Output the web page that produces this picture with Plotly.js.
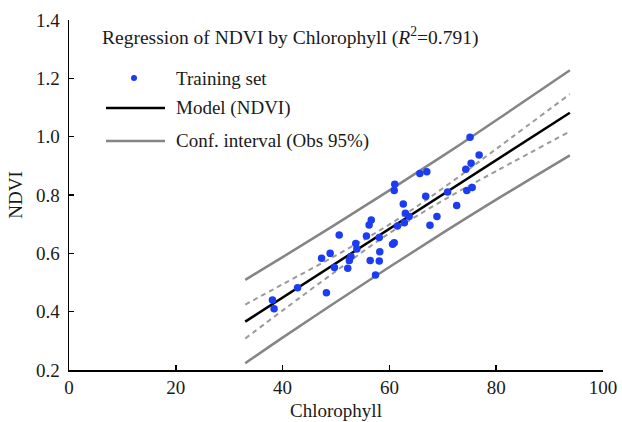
<!DOCTYPE html>
<html>
<head>
<meta charset="utf-8">
<script src="https://cdn.plot.ly/plotly-3.0.1.min.js"></script>
<style>
  html, body { margin: 0; padding: 0; background: #fff; }
  #chart { width: 622px; height: 422px; }
</style>
</head>
<body>
<div id="chart"></div>
<script>
// Training samples: chlorophyll content vs NDVI
const chlorophyll = [
  75.1, 76.8, 75.3, 74.3, 65.7, 67.0, 61.0, 60.9, 70.9, 66.8, 74.5, 75.5,
  62.6, 72.6, 63.0, 63.7, 68.9, 67.6, 62.8, 61.5, 56.6, 56.2, 50.6, 55.7,
  58.1, 53.7, 60.9, 60.6, 53.9, 58.2, 48.9, 47.3, 52.8, 52.5, 56.4, 58.1,
  49.7, 52.2, 57.4, 42.8, 48.2, 38.1, 38.4
];
const ndvi = [
  0.998, 0.937, 0.909, 0.888, 0.874, 0.880, 0.837, 0.815, 0.810, 0.796, 0.815, 0.826,
  0.769, 0.764, 0.737, 0.726, 0.726, 0.696, 0.705, 0.694, 0.714, 0.697, 0.663, 0.659,
  0.654, 0.634, 0.636, 0.631, 0.615, 0.605, 0.600, 0.583, 0.589, 0.575, 0.575, 0.574,
  0.551, 0.549, 0.526, 0.482, 0.465, 0.440, 0.410
];

// Fitted model (straight line) over the plotted chlorophyll range
const modelX = [33, 93.8];
const modelY = [0.366, 1.082];

// Band sample positions and limits
const bandX = [33, 40, 50, 60, 70, 80, 93.8];
const meanUpper = [0.424, 0.494, 0.593, 0.699, 0.823, 0.958, 1.146];
const meanLower = [0.308, 0.404, 0.539, 0.669, 0.781, 0.882, 1.018];
const obsUpper  = [0.509, 0.587, 0.700, 0.816, 0.934, 1.056, 1.228];
const obsLower  = [0.223, 0.311, 0.433, 0.553, 0.670, 0.784, 0.936];

const xTicks = [0, 20, 40, 60, 80, 100];
const yTicks = [0.2, 0.4, 0.6, 0.8, 1.0, 1.2, 1.4];
const yTickText = ['0.2', '0.4', '0.6', '0.8', '1.0', '1.2', '1.4'];

const legendLabels = ['Training set', 'Model (NDVI)', 'Conf. interval (Obs 95%)'];

const FONT = 'Liberation Serif, Times New Roman, serif';
const INK = '#1a1a1a';
const BLUE = '#1b3cf2';
const GREY = '#858585';
const DASH_GREY = '#9a9a9a';

const traces = [
  { x: bandX, y: obsUpper, mode: 'lines', line: { color: GREY, width: 2.5, shape: 'spline' }, hoverinfo: 'skip' },
  { x: bandX, y: obsLower, mode: 'lines', line: { color: GREY, width: 2.5, shape: 'spline' }, hoverinfo: 'skip' },
  { x: bandX, y: meanUpper, mode: 'lines', line: { color: DASH_GREY, width: 2, dash: '5px,4px', shape: 'spline' }, hoverinfo: 'skip' },
  { x: bandX, y: meanLower, mode: 'lines', line: { color: DASH_GREY, width: 2, dash: '5px,4px', shape: 'spline' }, hoverinfo: 'skip' },
  { x: modelX, y: modelY, mode: 'lines', line: { color: '#000', width: 2.5 } },
  { x: chlorophyll, y: ndvi, mode: 'markers', marker: { color: BLUE, size: 7.5 } }
];

// Hand-placed legend block in paper coordinates
const px = v => (v - 69) / 534;
const py = v => (370 - v) / 350;

const shapes = [
  { type: 'circle', xref: 'paper', yref: 'paper',
    x0: px(131), x1: px(137), y0: py(81), y1: py(75),
    fillcolor: BLUE, line: { width: 0 } },
  { type: 'line', xref: 'paper', yref: 'paper',
    x0: px(106), x1: px(165), y0: py(108), y1: py(108),
    line: { color: '#000', width: 2.5 } },
  { type: 'line', xref: 'paper', yref: 'paper',
    x0: px(106), x1: px(165), y0: py(141), y1: py(141),
    line: { color: GREY, width: 2.5 } }
];

const annFont = { family: FONT, size: 19, color: INK };
const annotations = [
  { xref: 'paper', yref: 'paper', x: px(100), y: py(36), xanchor: 'left', yanchor: 'middle',
    showarrow: false, text: 'Regression of NDVI by Chlorophyll (<i>R</i><sup>2</sup>=0.791)',
    font: { family: FONT, size: 19.5, color: INK } },
  { xref: 'paper', yref: 'paper', x: px(174), y: py(78), xanchor: 'left', yanchor: 'middle',
    showarrow: false, text: legendLabels[0], font: annFont },
  { xref: 'paper', yref: 'paper', x: px(174), y: py(108), xanchor: 'left', yanchor: 'middle',
    showarrow: false, text: legendLabels[1], font: annFont },
  { xref: 'paper', yref: 'paper', x: px(174), y: py(141), xanchor: 'left', yanchor: 'middle',
    showarrow: false, text: legendLabels[2], font: annFont }
];

const layout = {
  width: 622, height: 422,
  margin: { l: 69, r: 19, t: 20, b: 52 },
  paper_bgcolor: '#fff', plot_bgcolor: '#fff',
  showlegend: false,
  font: { family: FONT, size: 19, color: INK },
  xaxis: {
    range: [0, 100], tickvals: xTicks, ticks: 'inside', ticklen: 5, tickwidth: 1.5,
    tickcolor: '#000', showline: true, linecolor: '#000', linewidth: 1.5,
    showgrid: false, zeroline: false,
    tickfont: { family: FONT, size: 19, color: INK },
    title: { text: 'Chlorophyll', font: { family: FONT, size: 19, color: INK }, standoff: 6 }
  },
  yaxis: {
    range: [0.2, 1.4], tickvals: yTicks, ticktext: yTickText, ticks: 'inside', ticklen: 5, tickwidth: 1.5,
    tickcolor: '#000', showline: true, linecolor: '#000', linewidth: 1.5,
    showgrid: false, zeroline: false, ticklabelstandoff: 4,
    tickfont: { family: FONT, size: 19, color: INK },
    title: { text: 'NDVI', font: { family: FONT, size: 19, color: INK }, standoff: 8 }
  },
  shapes: shapes,
  annotations: annotations
};

Plotly.newPlot('chart', traces, layout, { staticPlot: true, displayModeBar: false });
</script>
</body>
</html>
